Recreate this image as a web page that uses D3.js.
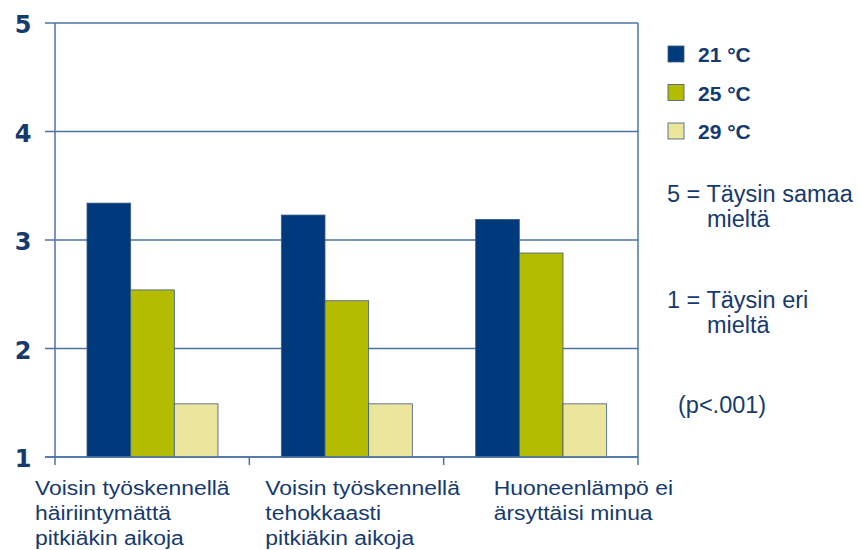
<!DOCTYPE html>
<html><head><meta charset="utf-8">
<script src="https://cdn.jsdelivr.net/npm/d3@7"></script>
<style>body{margin:0;background:#fff}svg{display:block}</style>
</head><body>
<svg id="c" width="861" height="550"></svg>
<script>
const categories = [
  ["Voisin työskennellä", "häiriintymättä", "pitkiäkin aikoja"],
  ["Voisin työskennellä", "tehokkaasti", "pitkiäkin aikoja"],
  ["Huoneenlämpö ei", "ärsyttäisi minua"]
];
const seriesNames = ["21 °C", "25 °C", "29 °C"];
const v21 = [3.34, 3.23, 3.19];
const v25 = [2.54, 2.44, 2.88];
const v29 = [1.49, 1.49, 1.49];
const yTicks = [1, 2, 3, 4, 5];
const noteLines = [["5 = Täysin samaa", "mieltä"], ["1 = Täysin eri", "mieltä"], ["(p<.001)"]];

const series = [v21, v25, v29];
const colors = ["#003a7d", "#b4bc00", "#ece59c"];
const navy = "#163a6e";
const gridC = "#4d73a6";

const svg = d3.select("#c");
const L = 55, R = 638, T = 23, B = 457;
const y = d3.scaleLinear().domain([1, 5]).range([B, T]);
const x0 = d3.scaleBand().domain(d3.range(categories.length)).range([L, R]);
const x1 = d3.scaleBand().domain(d3.range(series.length)).range([32, 163]);

// gridlines
svg.append("g").selectAll("line").data(yTicks).join("line")
  .attr("x1", L - 10).attr("x2", R).attr("y1", d => y(d)).attr("y2", d => y(d))
  .attr("stroke", gridC).attr("stroke-width", 1.5);
// axes lines
svg.append("line").attr("x1", L).attr("x2", L).attr("y1", T).attr("y2", B + 8).attr("stroke", gridC).attr("stroke-width", 1.5);
svg.append("line").attr("x1", R).attr("x2", R).attr("y1", T).attr("y2", B + 8).attr("stroke", gridC).attr("stroke-width", 1.5);
svg.append("g").selectAll("line").data(d3.range(1, categories.length)).join("line")
  .attr("x1", d => x0(d)).attr("x2", d => x0(d)).attr("y1", B).attr("y2", B + 8)
  .attr("stroke", gridC).attr("stroke-width", 1.5);

// y tick labels
svg.append("g").selectAll("text").data(yTicks).join("text")
  .attr("x", 23).attr("y", d => y(d) + 10).attr("text-anchor", "middle")
  .attr("font-family", "DejaVu Sans").attr("font-weight", "bold").attr("font-size", 24)
  .attr("fill", navy).text(d => d);

// bars
series.forEach((vals, si) => {
  svg.append("g").selectAll("rect").data(vals).join("rect")
    .attr("x", (d, i) => x0(i) + x1(si)).attr("width", x1.bandwidth())
    .attr("y", d => y(d)).attr("height", d => B - y(d))
    .attr("fill", colors[si]).attr("stroke", "#3d5a80").attr("stroke-width", 0.8);
});
// redraw baseline over bars
svg.append("line").attr("x1", L - 10).attr("x2", R).attr("y1", B).attr("y2", B).attr("stroke", gridC).attr("stroke-width", 1.5);

// category labels (slightly horizontally stretched as in the original)
const labelOffsets = [-20, 16, 50];
const sx = 1.09;
categories.forEach((lines, i) => {
  const x = x0(i) + labelOffsets[i];
  const t = svg.append("text").attr("transform", `translate(${x},0) scale(${sx},1)`)
    .attr("font-family", "Liberation Sans, Arial").attr("font-size", 21).attr("fill", navy);
  lines.forEach((ln, j) => t.append("tspan").attr("x", 0).attr("y", 495 + j * 25).text(ln));
});

// legend
const lg = svg.append("g");
seriesNames.forEach((n, i) => {
  lg.append("rect").attr("x", 668).attr("y", 46 + i * 38.5).attr("width", 16).attr("height", 16)
    .attr("fill", colors[i]).attr("stroke", "#3d5a80").attr("stroke-width", 0.8);
  lg.append("text").attr("x", 698).attr("y", 62 + i * 38.5)
    .attr("font-family", "Liberation Sans, Arial").attr("font-weight", "bold").attr("font-size", 21)
    .attr("fill", navy).text(n);
});

// notes
const noteY = [202, 308, 413];
const noteX = [667, 667, 678];
noteLines.forEach((lines, i) => {
  lines.forEach((ln, j) => {
    svg.append("text").attr("x", j === 0 ? noteX[i] : 707).attr("y", noteY[i] + j * 25)
      .attr("font-family", "Liberation Sans, Arial").attr("font-size", 23.5).attr("fill", navy).text(ln);
  });
});
</script>
</body></html>
